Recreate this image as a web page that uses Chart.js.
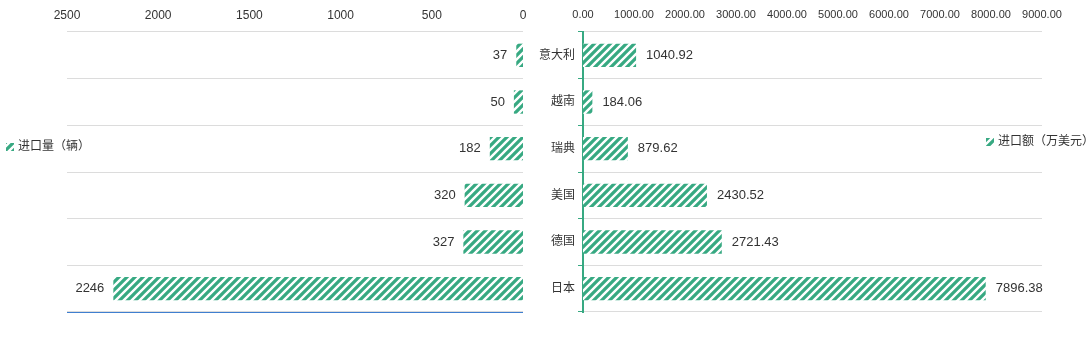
<!DOCTYPE html>
<html>
<head>
<meta charset="utf-8">
<script src="https://cdn.jsdelivr.net/npm/chart.js@4"></script>
<style>
  html,body{margin:0;padding:0;background:#fff;}
  #wrap{position:relative;width:1089px;height:354px;overflow:hidden;}
  canvas{position:absolute;top:0;}
  #left{left:0;}
  #right{left:530px;}
</style>
</head>
<body>
<div id="wrap">
  <canvas id="left" width="530" height="354"></canvas>
  <canvas id="right" width="559" height="354"></canvas>
</div>
<script>
// data
const countries = ['意大利', '越南', '瑞典', '美国', '德国', '日本'];
const volume = [37, 50, 182, 320, 327, 2246];              // 进口量（辆）
const amount = [1040.92, 184.06, 879.62, 2430.52, 2721.43, 7896.38]; // 进口额（万美元）
const volumeTicks = [0, 500, 1000, 1500, 2000, 2500];
const amountTicks = [0, 1000, 2000, 3000, 4000, 5000, 6000, 7000, 8000, 9000];

const GREEN = '#37a982';
const FONT = '"Liberation Sans", "Noto Sans CJK SC", sans-serif';

// striped fill
function stripes(){
  const c = document.createElement('canvas');
  c.width = 8; c.height = 8;
  const g = c.getContext('2d');
  g.fillStyle = GREEN; g.fillRect(0,0,8,8);
  g.strokeStyle = '#fff'; g.lineWidth = 2.4;
  g.beginPath();
  g.moveTo(-2,10); g.lineTo(10,-2);
  g.moveTo(-6,6); g.lineTo(6,-6);
  g.moveTo(2,14); g.lineTo(14,2);
  g.stroke();
  return g.createPattern(c, 'repeat');
}
const pat = stripes();

// value labels next to bars
const valueLabels = {
  id: 'valueLabels',
  afterDatasetsDraw(chart, args, opts){
    const ctx = chart.ctx;
    const ds = chart.data.datasets[0];
    ctx.save();
    ctx.font = '13px ' + FONT;
    ctx.fillStyle = '#333';
    ctx.textBaseline = 'middle';
    chart.getDatasetMeta(0).data.forEach((bar, i) => {
      const txt = opts.fmt(ds.data[i]);
      if(opts.side === 'left'){
        ctx.textAlign = 'right';
        ctx.fillText(txt, bar.x - 9, bar.y);
      } else {
        ctx.textAlign = 'left';
        ctx.fillText(txt, bar.x + 10, bar.y);
      }
    });
    ctx.restore();
  }
};

// legend + extra lines
const decor = {
  id: 'decor',
  afterDraw(chart, args, opts){
    const ctx = chart.ctx;
    ctx.save();
    if(opts.baseLine){
      const a = chart.chartArea;
      ctx.strokeStyle = '#3f7fd0'; ctx.lineWidth = 1;
      ctx.beginPath();
      ctx.moveTo(a.left, Math.round(a.bottom) + 0.5);
      ctx.lineTo(a.right, Math.round(a.bottom) + 0.5);
      ctx.stroke();
    }
    const [x, y] = opts.legendPos;
    ctx.fillStyle = pat;
    ctx.fillRect(x, y - 4, 8, 8);
    ctx.font = '12px ' + FONT;
    ctx.fillStyle = '#333';
    ctx.textAlign = 'left';
    ctx.textBaseline = 'middle';
    ctx.fillText(opts.legend, x + 12, y);
    ctx.restore();
  }
};

Chart.defaults.font.family = FONT;
Chart.defaults.color = '#333';

new Chart(document.getElementById('left'), {
  type: 'bar',
  data: {
    labels: countries,
    datasets: [{ label: '进口量（辆）', data: volume, backgroundColor: pat, borderWidth: 0,
      categoryPercentage: 1, barPercentage: 0.5 }]
  },
  options: {
    indexAxis: 'y',
    responsive: false,
    animation: false,
    devicePixelRatio: 1,
    layout: { padding: { left: 67, right: 7, top: 0, bottom: 42 } },
    plugins: {
      legend: { display: false },
      tooltip: { enabled: false },
      valueLabels: { side: 'left', fmt: v => String(v) },
      decor: { legend: '进口量（辆）', legendPos: [6, 147], baseLine: true }
    },
    scales: {
      x: {
        position: 'top', reverse: true, min: 0, max: 2500,
        afterBuildTicks: s => { s.ticks = volumeTicks.map(v => ({ value: v })); },
        ticks: { font: { size: 12 }, color: '#333', padding: 9, maxRotation: 0, autoSkip: false,
          callback: v => String(v) },
        grid: { display: false, drawTicks: false },
        border: { display: false },
        afterFit: s => { s.height = 32; }
      },
      y: {
        position: 'right',
        ticks: { display: false },
        grid: { color: '#dcdcdc', drawTicks: false },
        border: { display: false },
        afterFit: s => { s.width = 0; }
      }
    }
  },
  plugins: [valueLabels, decor]
});

new Chart(document.getElementById('right'), {
  type: 'bar',
  data: {
    labels: countries,
    datasets: [{ label: '进口额（万美元）', data: amount, backgroundColor: pat, borderWidth: 0,
      categoryPercentage: 1, barPercentage: 0.5 }]
  },
  options: {
    indexAxis: 'y',
    responsive: false,
    animation: false,
    devicePixelRatio: 1,
    layout: { padding: { left: 0, right: 47, top: 0, bottom: 42 } },
    plugins: {
      legend: { display: false },
      tooltip: { enabled: false },
      valueLabels: { side: 'right', fmt: v => v.toFixed(2) },
      decor: { legend: '进口额（万美元）', legendPos: [456, 142], baseLine: false }
    },
    scales: {
      x: {
        position: 'top', min: 0, max: 9000,
        afterBuildTicks: s => { s.ticks = amountTicks.map(v => ({ value: v })); },
        ticks: { font: { size: 11 }, color: '#333', padding: 10, maxRotation: 0, autoSkip: false,
          callback: v => Number(v).toFixed(2) },
        grid: { display: false, drawTicks: false },
        border: { display: false },
        afterFit: s => { s.height = 32; }
      },
      y: {
        position: 'left',
        ticks: { font: { size: 12 }, color: '#333', padding: 3 },
        grid: { color: '#dcdcdc', tickColor: GREEN, tickLength: 5, drawTicks: true },
        border: { display: true, color: GREEN, width: 2 },
        afterFit: s => { s.width = 53; }
      }
    }
  },
  plugins: [valueLabels, decor]
});
</script>
</body>
</html>
